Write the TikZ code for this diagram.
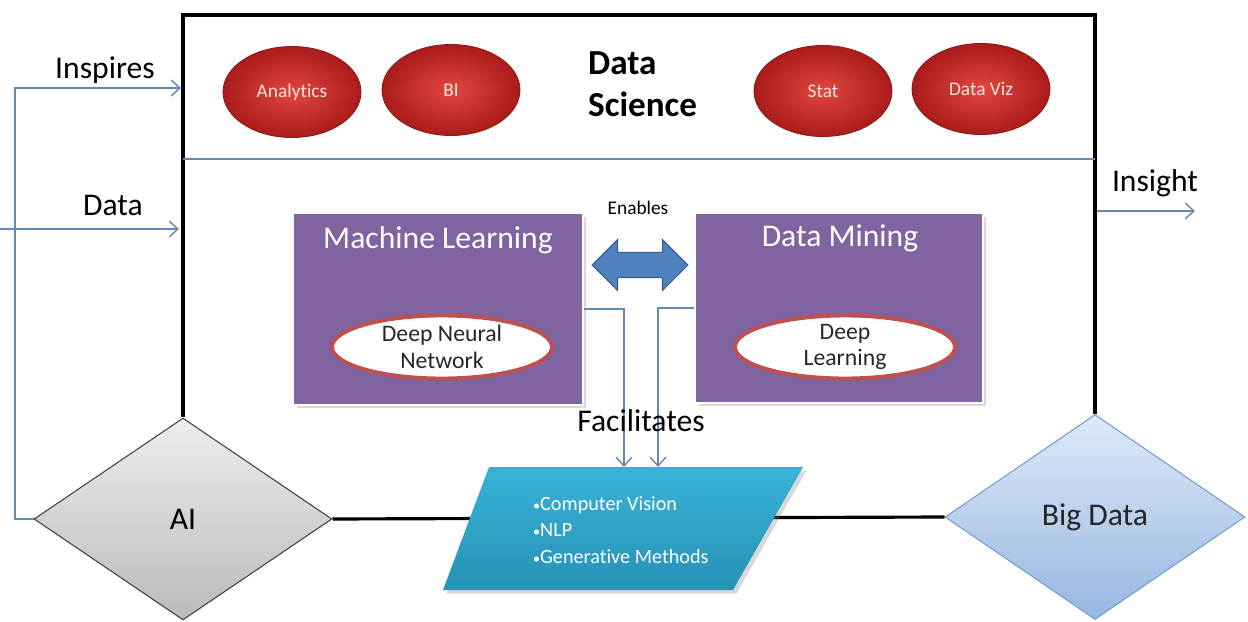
\documentclass[tikz,border=0pt]{standalone}
\usepackage{fontspec}
\setmainfont{Carlito}[Ligatures=NoCommon]
\usetikzlibrary{shapes.geometric,shapes.arrows,arrows.meta,shadows,backgrounds}
\definecolor{lineblue}{RGB}{100,138,178}
\definecolor{mlpurple}{RGB}{128,100,162}
\definecolor{ellred}{RGB}{192,80,77}
\definecolor{redtext}{RGB}{255,228,222}
\definecolor{darkred}{RGB}{140,25,22}
\definecolor{arrowblue}{RGB}{79,129,189}
\definecolor{arrowedge}{RGB}{56,93,138}
\begin{document}
\begin{tikzpicture}[x=0.02cm,y=-0.02cm,
  conn/.style={draw=lineblue,line width=0.8pt},
  tip/.style={-{Straight Barb[length=5pt,width=9pt]}},
  boxline/.style={draw=black,line width=2.3pt},
  redell/.style={ellipse,inner sep=0pt,minimum width=2.76cm,minimum height=1.82cm,
    draw=darkred,line width=0.5pt,shading=radial,
    inner color={rgb,255:red,225;green,70;blue,64},
    outer color={rgb,255:red,170;green,28;blue,26},
    text=redtext,font=\fontsize{11}{13}\selectfont},
  purplebox/.style={rectangle,fill=mlpurple,draw=white,line width=1.5pt,
    drop shadow={shadow xshift=2pt,shadow yshift=-2pt,opacity=0.3,fill=gray},
    inner sep=0pt},
  whiteell/.style={ellipse,fill=white,draw=ellred,line width=2.2pt,inner sep=0pt,
    minimum width=4.4cm,minimum height=1.26cm},
  lbl/.style={font=\fontsize{18}{21}\selectfont,text=black},
  boxtitle/.style={font=\fontsize{18}{21}\selectfont,text=white},
  ovaltext/.style={font=\fontsize{13.5}{16}\selectfont,align=center,text=black!85}
]
\useasboundingbox (0,0) rectangle (1248,622);

% coordinates
\coordinate (tl) at (183,15);
\coordinate (tr) at (1095,15);
\coordinate (dl) at (183,159);
\coordinate (dr) at (1095,159);
\coordinate (in0) at (15,88);
\coordinate (inEnd) at (181,88);
\coordinate (da0) at (0,229);
\coordinate (daEnd) at (179,229);
\coordinate (is0) at (1097,211);
\coordinate (isEnd) at (1195,211);
\coordinate (pa) at (624,467);
\coordinate (pb) at (658,467);
\coordinate (p1) at (489,467);
\coordinate (p2) at (803,467);
\coordinate (p3) at (733,590);
\coordinate (p4) at (443,590);

% diamonds
\node[diamond,minimum width=5.96cm,minimum height=4.04cm,inner sep=0pt,
  draw=black!75,line width=0.6pt,top color=black!7,bottom color=black!27,
  font=\fontsize{18}{21}\selectfont] (AI) at (183,519) {AI};
\node[diamond,minimum width=6cm,minimum height=4.1cm,inner sep=0pt,
  draw={rgb,255:red,120;green,155;blue,205},line width=0.6pt,
  top color={rgb,255:red,222;green,233;blue,248},
  bottom color={rgb,255:red,150;green,183;blue,224},
  font=\fontsize{18}{21}\selectfont,text=black!85] (BD) at (1095,517) {Big Data};

% main frame (behind)
\begin{pgfonlayer}{background}
\fill[white] (0,0) rectangle (1248,622);
\draw[boxline] (AI.north) -- (tl) -- (tr) -- (BD.north);
\draw[draw=black,line width=1.8pt] (AI.east) -- (BD.west);
\end{pgfonlayer}
\draw[conn] (dl) -- (dr);

% left and right connectors
\draw[conn,tip] (AI.west) -| (in0) -- (inEnd);
\draw[conn,tip] (da0) -- (daEnd);
\draw[conn,tip] (is0) -- (isEnd);
\node[lbl] (inspires) at (105,70) {Inspires};
\node[lbl] (datalbl) at (113,205) {Data};
\node[lbl] (insight) at (1155,183) {Insight};

% red ellipses
\node[redell] (analytics) at (292,92) {Analytics};
\node[redell] (bi) at (451,90) {BI};
\node[redell] (stat) at (823,91) {Stat};
\node[redell] (dataviz) at (981,89) {Data Viz};
\node[anchor=west,align=left,font=\bfseries\fontsize{20}{24}\selectfont] (ds) at (582,84) {Data\\Science};

% purple boxes
\node[purplebox,minimum width=5.8cm,minimum height=3.84cm] (ML) at (438,309) {};
\node[purplebox,minimum width=5.76cm,minimum height=3.8cm] (DM) at (839,308) {};
\node[boxtitle] (mlt) at (438,240) {Machine Learning};
\node[boxtitle] (dmt) at (840,238) {Data Mining};
\node[whiteell] (dnn) at (442,347) {};
\node[ovaltext] (dnnt) at (dnn) {Deep Neural\\[-1pt]Network};
\node[whiteell] (dl2) at (845,347) {};
\node[ovaltext] (dlt) at (dl2) {Deep\\[-1pt]Learning};

% double arrow
\node[double arrow,draw=arrowedge,line width=0.6pt,fill=arrowblue,
  minimum height=1.92cm,inner xsep=0pt,inner ysep=0.24cm,
  double arrow head extend=0.26cm] (enab) at (640,265) {};
\node[font=\fontsize{11}{13}\selectfont] (enables) at (638,208) {Enables};

% parallelogram
\path[top color={rgb,255:red,56;green,178;blue,214},bottom color={rgb,255:red,38;green,146;blue,182},
  drop shadow={shadow xshift=2pt,shadow yshift=-2pt,opacity=0.3,fill=gray}]
  (p1) -- (p2) -- (p3) -- (p4) -- cycle;
\node[anchor=west,align=left,text=white,font=\fontsize{11.5}{15}\selectfont] (apps) at (527,530)
  {{\footnotesize•}Computer Vision\\{\footnotesize•}NLP\\{\footnotesize•}Generative Methods};

% facilitate connectors
\draw[conn,tip] (ML.east) -| (pa);
\draw[conn,tip] (DM.west) -| (pb);
\node[lbl] (facil) at (641,421) {Facilitates};
\end{tikzpicture}
\end{document}
